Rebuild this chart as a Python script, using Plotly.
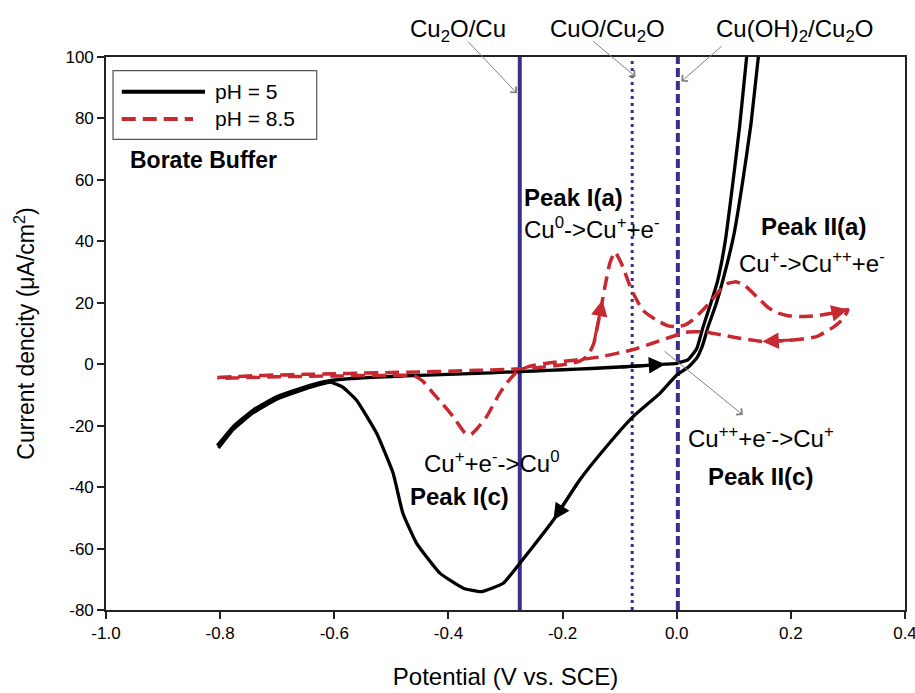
import plotly.graph_objects as go

# ---------------- data ----------------
# pH = 5 (black), one continuous cyclic scan
ph5_start_x = [-0.805, -0.777, -0.742, -0.701, -0.66, -0.625, -0.607]
ph5_start_y = [-26.5, -20.3, -14.9, -10.6, -7.9, -6.0, -5.3]
ph5_fwd_x = [-0.55, -0.5, -0.45, -0.4, -0.35, -0.3, -0.25, -0.2, -0.15, -0.1, -0.05, -0.02,
             0.0, 0.02, 0.035, 0.046, 0.06, 0.072, 0.085, 0.099, 0.11, 0.1225, 0.128]
ph5_fwd_y = [-4.4, -4.0, -3.6, -3.3, -3.0, -2.6, -2.2, -1.8, -1.4, -0.9, -0.4, 0.0,
             0.3, 1.5, 5.0, 12.0, 20.0, 27.4, 40.0, 60.0, 77.0, 100.0, 110.0]
ph5_rev_x = [0.15, 0.143, 0.13, 0.116, 0.1, 0.081, 0.068, 0.055, 0.045, 0.035, 0.02, 0.0,
             -0.029, -0.076, -0.123, -0.17, -0.216, -0.252, -0.28, -0.304, -0.342, -0.374,
             -0.415, -0.456, -0.48, -0.497, -0.526, -0.561, -0.585, -0.607]
ph5_rev_y = [110.0, 100.0, 78.0, 60.0, 42.0, 27.4, 19.0, 12.2, 6.0, 2.0, -1.0, -3.5,
             -9.4, -17.0, -26.8, -37.7, -50.7, -59.4, -66.0, -71.3, -74.0, -72.9,
             -68.0, -58.2, -48.4, -35.4, -22.4, -11.7, -7.5, -5.8]
ph5_end_x = [-0.625, -0.66, -0.701, -0.742, -0.777, -0.803]
ph5_end_y = [-6.6, -8.6, -11.4, -15.8, -21.2, -27.3]

# pH = 8.5 (red dashed)
ph85_fwd_x = [-0.805, -0.75, -0.7, -0.65, -0.6, -0.55, -0.5, -0.45, -0.4, -0.35, -0.3, -0.25,
              -0.2, -0.17, -0.155, -0.145, -0.13, -0.125, -0.117, -0.108, -0.1, -0.094,
              -0.085, -0.076, -0.059, -0.035, -0.015, 0.0, 0.015, 0.028, 0.045, 0.058,
              0.075, 0.09, 0.105, 0.12, 0.14, 0.16, 0.175, 0.195, 0.216, 0.245, 0.274, 0.3]
ph85_fwd_y = [-4.3, -3.8, -3.5, -3.3, -3.1, -2.9, -2.7, -2.5, -2.3, -2.0, -1.7, -1.2,
              -0.2, 1.0, 3.0, 7.0, 21.0, 26.0, 33.0, 36.5, 34.0, 31.5,
              27.0, 23.0, 17.5, 14.3, 12.5, 12.2, 12.8, 14.4, 17.5, 20.0,
              24.0, 26.3, 26.8, 25.5, 22.0, 18.5, 16.8, 15.8, 15.5, 15.8, 16.7, 17.8]
ph85_rev_x = [0.29, 0.274, 0.245, 0.204, 0.15, 0.1, 0.05, 0.02, 0.0, -0.04, -0.076, -0.134,
              -0.18, -0.222, -0.26, -0.28, -0.295, -0.31, -0.333, -0.35, -0.36, -0.37,
              -0.392, -0.41, -0.427, -0.445, -0.46, -0.5, -0.6, -0.7, -0.805]
ph85_rev_y = [14.5, 12.0, 9.0, 7.9, 7.4, 8.8, 10.5, 10.5, 9.5, 7.0, 4.8, 2.4,
              1.3, 0.5, -0.8, -2.5, -5.5, -9.4, -17.0, -21.0, -22.8, -22.6,
              -17.0, -13.0, -9.4, -5.5, -3.8, -3.6, -3.8, -4.1, -4.6]

# reference potentials (vertical lines)
ref_names = ["Cu<sub>2</sub>O/Cu", "CuO/Cu<sub>2</sub>O", "Cu(OH)<sub>2</sub>/Cu<sub>2</sub>O"]
ref_potentials = [-0.275, -0.078, 0.002]
ref_dashes = ["solid", "3px,4px", "9px,4px"]
ref_widths = [4, 3, 4]

x_ticks = [-1.0, -0.8, -0.6, -0.4, -0.2, 0.0, 0.2, 0.4]
y_ticks = [-80, -60, -40, -20, 0, 20, 40, 60, 80, 100]

BLACK = "#000000"
RED = "#c8282f"
PURPLE = "#3b2e8c"
GRAY = "#808080"
FONT = "Liberation Sans, Arial, sans-serif"

fig = go.Figure()

for name, v, d, w in zip(ref_names, ref_potentials, ref_dashes, ref_widths):
    fig.add_trace(go.Scatter(x=[v, v], y=[-80, 100], mode="lines",
                             line=dict(color=PURPLE, width=w, dash=d),
                             showlegend=False, hoverinfo="skip"))

ph5_x = ph5_start_x + ph5_fwd_x + ph5_rev_x + ph5_end_x
ph5_y = ph5_start_y + ph5_fwd_y + ph5_rev_y + ph5_end_y
fig.add_trace(go.Scatter(x=ph5_x, y=ph5_y, mode="lines", name="pH = 5",
                         line=dict(color=BLACK, width=3.3, shape="spline", smoothing=0.4),
                         showlegend=False))

ph85_x = ph85_fwd_x + ph85_rev_x
ph85_y = ph85_fwd_y + ph85_rev_y
fig.add_trace(go.Scatter(x=ph85_x, y=ph85_y, mode="lines", name="pH = 8.5",
                         line=dict(color=RED, width=3.5, dash="14px,7px",
                                   shape="spline", smoothing=0.5),
                         showlegend=False))

# direction arrows along the curves (taken from the data arrays)
def curve_arrow(xs, ys, tip, tail, color):
    fig.add_annotation(x=xs[tip], y=ys[tip], ax=xs[tail], ay=ys[tail],
                       xref="x", yref="y", axref="x", ayref="y", text="",
                       showarrow=True, arrowhead=2, arrowsize=1.1, arrowwidth=3,
                       arrowcolor=color)

curve_arrow(ph5_fwd_x, ph5_fwd_y, 11, 9, BLACK)          # forward, pointing right
curve_arrow(ph5_rev_x, ph5_rev_y, 16, 15, BLACK)         # reverse, pointing down-left
curve_arrow(ph85_fwd_x, ph85_fwd_y, 16, 15, RED)         # Peak I(a) rising
curve_arrow(ph85_fwd_x, ph85_fwd_y, 43, 42, RED)         # vertex
curve_arrow(ph85_rev_x, ph85_rev_y, 4, 3, RED)           # reverse, pointing left

# labels of reference potentials with thin gray pointers
label_x = [-0.383, -0.122, 0.207]
label_y_paper = 1.0488
pointer_tail = [(-0.368, 105.5), (-0.149, 105.5), (0.081, 103.9)]
pointer_tip_y = [88.2, 93.6, 92.0]
for name, v, lx, (tx, ty), py in zip(ref_names, ref_potentials, label_x,
                                     pointer_tail, pointer_tip_y):
    fig.add_annotation(x=lx, y=label_y_paper, xref="x", yref="paper", text=name,
                       showarrow=False, yanchor="middle",
                       font=dict(family=FONT, size=24, color="black"))
    fig.add_annotation(x=v - 0.005 if v < -0.1 else v + 0.006, y=py, ax=tx, ay=ty,
                       xref="x", yref="y", axref="x", ayref="y", text="",
                       showarrow=True, arrowhead=4, arrowsize=1.6, arrowwidth=1,
                       arrowcolor=GRAY)

# Cu++ pointer
fig.add_annotation(x=0.116, y=-16.5, ax=-0.024, ay=4.6, xref="x", yref="y",
                   axref="x", ayref="y", text="", showarrow=True, arrowhead=4,
                   arrowsize=1.6, arrowwidth=1, arrowcolor=GRAY)

texts = [
    ("<b>Peak I(a)</b>", -0.271, 54.4, "left"),
    ("Cu<sup>0</sup>->Cu<sup>+</sup>+e<sup>-</sup>", -0.271, 44.3, "left"),
    ("<b>Peak II(a)</b>", 0.239, 44.7, "center"),
    ("Cu<sup>+</sup>->Cu<sup>++</sup>+e<sup>-</sup>", 0.237, 33.3, "center"),
    ("Cu<sup>+</sup>+e<sup>-</sup>->Cu<sup>0</sup>", -0.324, -31.8, "center"),
    ("<b>Peak I(c)</b>", -0.381, -43.2, "center"),
    ("Cu<sup>++</sup>+e<sup>-</sup>->Cu<sup>+</sup>", 0.148, -23.7, "center"),
    ("<b>Peak II(c)</b>", 0.146, -36.7, "center"),
]
for t, x, y, anc in texts:
    fig.add_annotation(x=x, y=y, text=t, showarrow=False, xanchor=anc,
                       font=dict(family=FONT, size=24, color="black"))

# legend (drawn) and buffer label
fig.add_shape(type="rect", xref="paper", yref="paper", x0=0.0088, x1=0.2637,
              y0=0.8512, y1=0.9752, line=dict(color="#555555", width=1.2),
              fillcolor="white")
fig.add_shape(type="line", xref="paper", yref="paper", x0=0.0197, x1=0.1239,
              y0=0.9373, y1=0.9373, line=dict(color=BLACK, width=4))
fig.add_shape(type="line", xref="paper", yref="paper", x0=0.0197, x1=0.1089,
              y0=0.8879, y1=0.8879, line=dict(color=RED, width=4, dash="14px,7px"))
fig.add_annotation(xref="paper", yref="paper", x=0.1335, y=0.9373, text="pH = 5",
                   showarrow=False, xanchor="left", yanchor="middle",
                   font=dict(family=FONT, size=21, color="black"))
fig.add_annotation(xref="paper", yref="paper", x=0.1335, y=0.8879, text="pH = 8.5",
                   showarrow=False, xanchor="left", yanchor="middle",
                   font=dict(family=FONT, size=21, color="black"))
fig.add_annotation(xref="paper", yref="paper", x=0.0275, y=0.8137,
                   text="<b>Borate Buffer</b>", showarrow=False, xanchor="left",
                   yanchor="middle", font=dict(family=FONT, size=23, color="black"))

axis_common = dict(showline=True, mirror=True, linecolor="#222222", linewidth=1.6,
                   ticks="outside", ticklen=7, tickwidth=1.5, tickcolor="#222222",
                   showgrid=False, zeroline=False, automargin=False,
                   ticklabeloverflow="allow",
                   tickfont=dict(family=FONT, size=17, color="black"))

fig.update_layout(
    width=915, height=693,
    margin=dict(l=106, r=10, t=57, b=83),
    paper_bgcolor="white", plot_bgcolor="white",
    showlegend=False,
    xaxis=dict(range=[-1.0, 0.4], tickvals=x_ticks,
               ticktext=[f"{v:.1f}" for v in x_ticks],
               title=dict(text="Potential (V vs. SCE)", standoff=26,
                          font=dict(family=FONT, size=24, color="black")),
               **axis_common),
    yaxis=dict(range=[-80, 100], tickvals=y_ticks,
               ticktext=[str(v) for v in y_ticks],
               title=dict(text="Current dencity (μA/cm<sup>2</sup>)", standoff=24,
                          font=dict(family=FONT, size=23, color="black")),
               **axis_common),
)

# remove the browser's default 8px body margin so the figure fills the window
fig.write_html("out.html",
               config={"displayModeBar": False},
               post_script="document.body.style.margin='0';"
                           "document.body.style.overflow='hidden';")
